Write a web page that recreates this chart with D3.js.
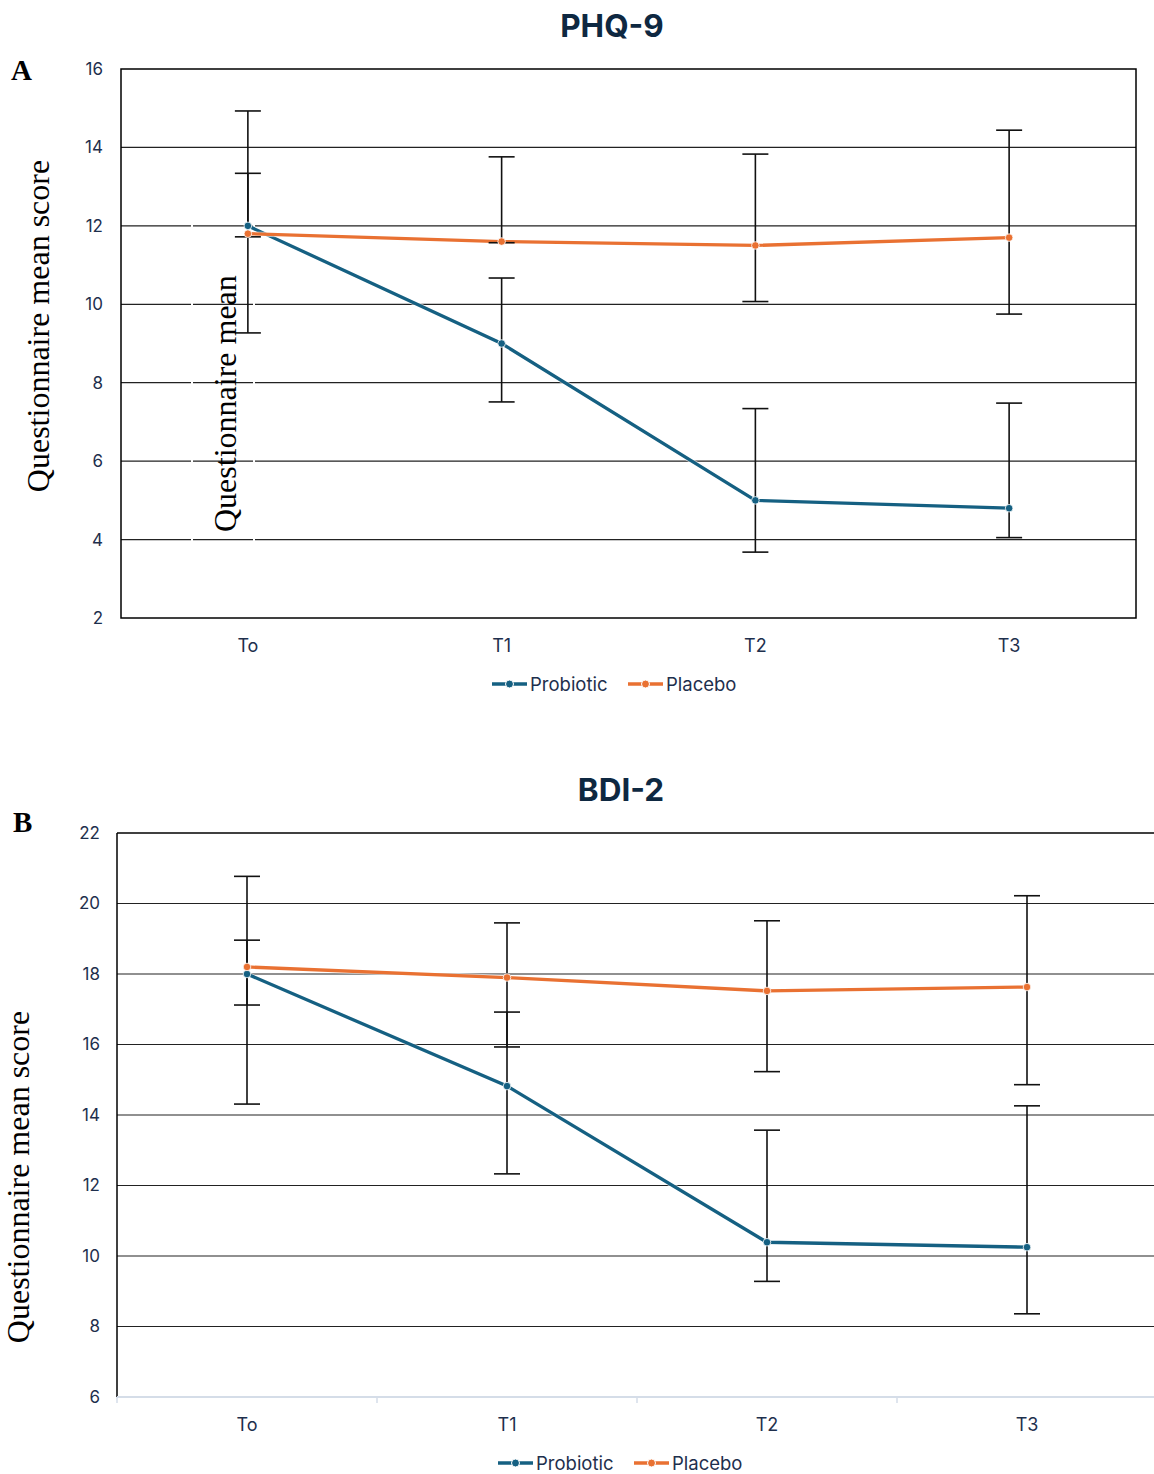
<!DOCTYPE html>
<html>
<head>
<meta charset="utf-8">
<script src="https://cdn.jsdelivr.net/npm/d3@7"></script>
<style>
  body { margin: 0; background: #fff; }
  svg { display: block; }
  .tick-label { font-family: Inter, "Open Sans", sans-serif; fill: #1e2f4d; }
  .serif { font-family: "Liberation Serif", "DejaVu Serif", serif; fill: #000; }
</style>
</head>
<body>
<div id="chart"></div>
<script>
// ---- data ----
const timepoints = ["To", "T1", "T2", "T3"];
const seriesNames = ["Probiotic", "Placebo"];
const seriesColors = ["#156082", "#e97132"];

// PHQ-9 (panel A)
const phqProbiotic   = [12.0, 9.0, 5.0, 4.8];
const phqProbioticHi = [14.93, 10.67, 7.34, 7.48];
const phqProbioticLo = [9.27, 7.51, 3.68, 4.05];
const phqPlacebo     = [11.8, 11.6, 11.5, 11.7];
const phqPlaceboHi   = [13.34, 13.76, 13.83, 14.44];
const phqPlaceboLo   = [11.72, 11.57, 10.07, 9.75];
const phqTicks = [2, 4, 6, 8, 10, 12, 14, 16];

// BDI-2 (panel B)
const bdiProbiotic   = [18.0, 14.82, 10.39, 10.25];
const bdiProbioticHi = [20.77, 16.92, 13.57, 14.26];
const bdiProbioticLo = [14.31, 12.33, 9.28, 8.36];
const bdiPlacebo     = [18.2, 17.9, 17.52, 17.63];
const bdiPlaceboHi   = [18.96, 19.45, 19.51, 20.22];
const bdiPlaceboLo   = [17.12, 15.93, 15.23, 14.86];
const bdiTicks = [6, 8, 10, 12, 14, 16, 18, 20, 22];

const W = 1154, H = 1474;
const svg = d3.select("#chart").append("svg").attr("width", W).attr("height", H);

function drawPanel(p) {
  const x = d3.scaleBand().domain(timepoints).range([p.left, p.right]);
  const y = d3.scaleLinear().domain(d3.extent(p.ticks)).range([p.bottom, p.top]);
  const g = svg.append("g");

  // gridlines
  g.append("g").selectAll("line").data(p.ticks.slice(1, -1)).enter().append("line")
    .attr("x1", p.left).attr("x2", p.right)
    .attr("y1", d => y(d)).attr("y2", d => y(d))
    .attr("stroke", "#222").attr("stroke-width", 1.2);

  // y tick labels
  const yAxis = g.append("g").attr("transform", `translate(${p.left},0)`)
    .call(d3.axisLeft(y).tickValues(p.ticks).tickSize(0).tickPadding(p.left - p.labelRight));
  yAxis.select(".domain").remove();
  yAxis.selectAll("text").attr("class", "tick-label").style("font-size", "17px").attr("fill", "#1e2f4d");

  // x tick labels
  const xAxis = g.append("g").attr("transform", `translate(0,${p.bottom})`)
    .call(d3.axisBottom(x).tickSize(0).tickPadding(p.xLabelPad));
  xAxis.select(".domain").remove();
  xAxis.selectAll("text").attr("class", "tick-label").style("font-size", "18px").attr("fill", "#1e2f4d");

  // frame
  if (p.boxed) {
    g.append("rect").attr("x", p.left).attr("y", p.top)
      .attr("width", p.right - p.left).attr("height", p.bottom - p.top)
      .attr("fill", "none").attr("stroke", "#000").attr("stroke-width", 1.5);
  } else {
    g.append("line").attr("x1", p.left).attr("x2", p.right).attr("y1", p.top).attr("y2", p.top)
      .attr("stroke", "#000").attr("stroke-width", 1.5);
    g.append("line").attr("x1", p.left).attr("x2", p.left).attr("y1", p.top).attr("y2", p.bottom)
      .attr("stroke", "#000").attr("stroke-width", 1.5);
    g.append("line").attr("x1", p.left).attr("x2", p.right).attr("y1", p.bottom).attr("y2", p.bottom)
      .attr("stroke", "#d5dde8").attr("stroke-width", 2);
    const bounds = timepoints.map(t => x(t)).concat([p.right]);
    g.append("g").selectAll("line").data(bounds).enter().append("line")
      .attr("x1", d => d).attr("x2", d => d)
      .attr("y1", p.bottom).attr("y2", p.bottom + 6)
      .attr("stroke", "#d5dde8").attr("stroke-width", 1.5);
  }

  // white strips from the pasted label (panel A artefact)
  if (p.strips) {
    g.append("g").selectAll("line").data(p.strips).enter().append("line")
      .attr("x1", d => d).attr("x2", d => d).attr("y1", 182).attr("y2", 548)
      .attr("stroke", "#fff").attr("stroke-width", 2);
  }

  const cx = t => x(t) + x.bandwidth() / 2;
  const series = p.series.map((s, i) => ({
    name: seriesNames[i], color: seriesColors[i],
    pts: timepoints.map((t, k) => ({ t, v: s.mean[k], hi: s.hi[k], lo: s.lo[k] }))
  }));

  // lines
  const line = d3.line().x(d => cx(d.t)).y(d => y(d.v));
  series.forEach(s => {
    g.append("path").datum(s.pts).attr("d", line)
      .attr("fill", "none").attr("stroke", "#fff").attr("stroke-width", 5).attr("opacity", 0.6);
    g.append("path").datum(s.pts).attr("d", line)
      .attr("fill", "none").attr("stroke", s.color).attr("stroke-width", 3.3);
  });

  // error bars
  series.forEach(s => {
    const eb = g.append("g").selectAll("g").data(s.pts).enter().append("g");
    eb.append("line").attr("x1", d => cx(d.t)).attr("x2", d => cx(d.t))
      .attr("y1", d => y(d.hi)).attr("y2", d => y(d.lo))
      .attr("stroke", "#111").attr("stroke-width", 1.6);
    ["hi", "lo"].forEach(key => {
      eb.append("line").attr("x1", d => cx(d.t) - 13).attr("x2", d => cx(d.t) + 13)
        .attr("y1", d => y(d[key])).attr("y2", d => y(d[key]))
        .attr("stroke", "#111").attr("stroke-width", 1.6);
    });
  });

  // markers
  series.forEach(s => {
    g.append("g").selectAll("circle").data(s.pts).enter().append("circle")
      .attr("cx", d => cx(d.t)).attr("cy", d => y(d.v)).attr("r", 3.8)
      .attr("fill", s.color).attr("stroke", "#fff").attr("stroke-width", 0.8);
  });

  // title
  g.append("text").attr("x", p.titleX).attr("y", p.titleY).attr("text-anchor", "middle")
    .style("font-family", "Inter, 'Open Sans', sans-serif").style("font-weight", 700)
    .style("font-size", "31.5px").attr("fill", "#0e2841").text(p.title);

  // panel letter
  g.append("text").attr("class", "serif").attr("x", p.letterX).attr("y", p.letterY)
    .style("font-weight", 700).style("font-size", "29px").text(p.letter);

  // y axis title
  g.append("text").attr("class", "serif")
    .attr("transform", `translate(${p.yTitleX},${p.yTitleY}) rotate(-90)`)
    .attr("text-anchor", "middle").style("font-size", "32px").text("Questionnaire mean score");
  if (p.strayTitle) {
    g.append("text").attr("class", "serif")
      .attr("transform", `translate(${p.strayTitle[0]},${p.strayTitle[1]}) rotate(-90)`)
      .attr("text-anchor", "start").style("font-size", "32px").text("Questionnaire mean");
  }

  // legend
  const lg = g.append("g").attr("transform", `translate(${p.legendX},${p.legendY})`);
  let off = 0;
  series.forEach((s, i) => {
    const item = lg.append("g").attr("transform", `translate(${off},0)`);
    item.append("line").attr("x1", 0).attr("x2", 35).attr("y1", 0).attr("y2", 0)
      .attr("stroke", s.color).attr("stroke-width", 3.5);
    item.append("circle").attr("cx", 17.5).attr("cy", 0).attr("r", 4)
      .attr("fill", s.color).attr("stroke", "#fff").attr("stroke-width", 1);
    item.append("text").attr("class", "tick-label").attr("x", 38).attr("y", 6.5)
      .style("font-size", "18.5px").text(s.name);
    off += 136;
  });
}

drawPanel({
  left: 121, right: 1136, top: 69, bottom: 618, labelRight: 103, xLabelPad: 21,
  ticks: phqTicks, boxed: true, strips: [192, 254],
  series: [
    { mean: phqProbiotic, hi: phqProbioticHi, lo: phqProbioticLo },
    { mean: phqPlacebo, hi: phqPlaceboHi, lo: phqPlaceboLo }
  ],
  title: "PHQ-9", titleX: 612, titleY: 37,
  letter: "A", letterX: 11, letterY: 80,
  yTitleX: 49, yTitleY: 326, strayTitle: [236, 532],
  legendX: 492, legendY: 684
});

drawPanel({
  left: 117, right: 1157, top: 833, bottom: 1397, labelRight: 100, xLabelPad: 21,
  ticks: bdiTicks, boxed: false,
  series: [
    { mean: bdiProbiotic, hi: bdiProbioticHi, lo: bdiProbioticLo },
    { mean: bdiPlacebo, hi: bdiPlaceboHi, lo: bdiPlaceboLo }
  ],
  title: "BDI-2", titleX: 621, titleY: 801,
  letter: "B", letterX: 13, letterY: 832,
  yTitleX: 29, yTitleY: 1177,
  legendX: 498, legendY: 1463
});
</script>
</body>
</html>
